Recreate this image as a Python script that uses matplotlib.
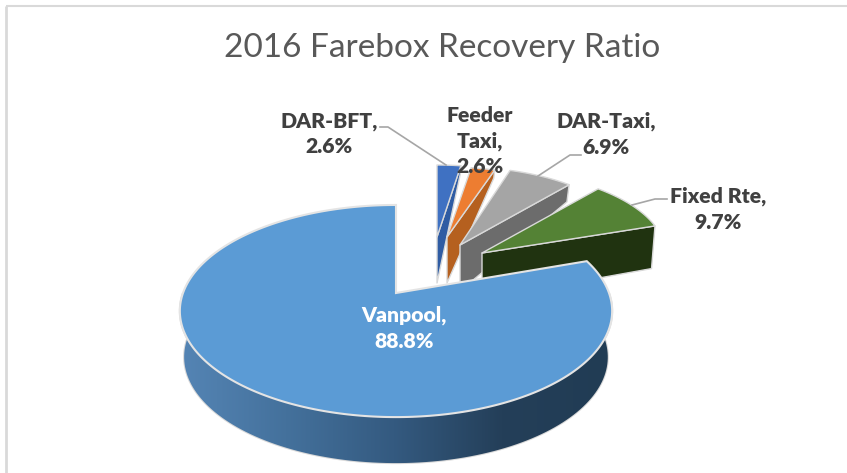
import numpy as np
import matplotlib
matplotlib.use("Agg")
import matplotlib.pyplot as plt
from matplotlib.colors import LinearSegmentedColormap
from matplotlib.patches import Polygon

# data, in the order the slices run clockwise from 12 o'clock
categories = ["DAR-BFT", "Feeder Taxi", "DAR-Taxi", "Fixed Rte", "Vanpool"]
ratios = [2.6, 2.6, 6.9, 9.7, 88.8]
label_text = ["DAR-BFT,\n2.6%", "Feeder\nTaxi,\n2.6%", "DAR-Taxi,\n6.9%",
              "Fixed Rte,\n9.7%", "Vanpool,\n88.8%"]

top_colors = ["#3f71c2", "#ed7d31", "#a5a5a5", "#548235", "#5b9bd5"]
side_colors = ["#2f5ca3", "#b5601f", "#6c6c6c", "#203310", "#2f5577"]

# apex x, apex y, x radius, y radius, perspective for each slice (picture pixels)
geometry = [(437, 237, 162, 72, 0),
            (447, 237, 164, 70, 0),
            (460, 245, 172, 78, 0),
            (482, 253, 183, 83, 0),
            (396, 293, 213, 103, 0.17)]

label_pos = [(329, 134), (480, 141), (606, 134), (718, 209), (404, 328)]
leaders = [[(380, 127), (388, 127), (446, 165)],
           [(538, 176), (570, 155), (581, 155)],
           [(632, 205), (655, 199), (667, 199)]]

plt.rcParams["font.family"] = ["Lato", "DejaVu Sans"]

fig = plt.figure(figsize=(8.47, 4.73), dpi=100)
ax = fig.add_axes([0, 0, 1, 1])
ax.set_xlim(0, 847)
ax.set_ylim(473, 0)
ax.axis("off")


def rim(geo, a0, a1, n=120):
    cx, cy, rx, ry, k = geo
    t = np.radians(np.linspace(a0, a1, n))
    u, v = np.sin(t), np.cos(t)
    return cx + rx * u / (1 + k * v), cy - ry * v / (1 + k * v)


def drop(x, y, cx):
    # the underside sits lower, less so towards the back of the chart
    depth = np.clip(8 + 0.62 * (y - 170), 8, 46)
    return cx + (x - cx) * 0.98, y + depth


edge = "#d9d9d9"
angles = 360 * np.array(ratios) / sum(ratios)
starts = np.concatenate([[0], np.cumsum(angles)[:-1]])

# small exploded slices, back to front
for i in range(4):
    geo = geometry[i]
    a0, a1 = starts[i], starts[i] + angles[i]
    x, y = rim(geo, a0, a1)
    # cut face along the clockwise edge
    ex = np.array([geo[0], x[-1]])
    ey = np.array([geo[1], y[-1]])
    bx, by = drop(ex, ey, geo[0])
    ax.add_patch(Polygon(list(zip(ex, ey)) + list(zip(bx[::-1], by[::-1])),
                         fc=side_colors[i], ec=edge, lw=1.0, joinstyle="round"))
    ax.add_patch(Polygon([(geo[0], geo[1])] + list(zip(x, y)),
                         fc=top_colors[i], ec=edge, lw=1.0, joinstyle="round"))

# big slice: shaded wall first, then the top
geo = geometry[4]
a0, a1 = starts[4], starts[4] + angles[4]
fx, fy = rim(geo, 90, 270)
bx, by = drop(fx, fy, 394)
wall = Polygon(list(zip(fx, fy)) + list(zip(bx[::-1], by[::-1])),
               fc="none", ec=edge, lw=1.5)
ax.add_patch(wall)
shade = LinearSegmentedColormap.from_list(
    "wall", ["#5585b5", "#44719c", "#345a80", "#243f59", "#213c54"])
im = ax.imshow(np.linspace(0, 1, 256)[None, :], cmap=shade, aspect="auto",
               extent=(178, 610, 473, 300), zorder=2)
im.set_clip_path(wall)
ax.set_xlim(0, 847)
ax.set_ylim(473, 0)

x, y = rim(geo, a0, a1, 300)
ax.add_patch(Polygon([(geo[0], geo[1])] + list(zip(x, y)), fc=top_colors[4],
                     ec="#e4e4e4", lw=1.5, zorder=3))

# chart frame
ax.plot([6, 6], [6, 473], color=edge, lw=2, solid_capstyle="butt")
ax.plot([6, 847], [6.5, 6.5], color=edge, lw=1.5, solid_capstyle="butt")

for pts in leaders:
    ax.plot(*zip(*pts), color="#a6a6a6", lw=1.2, zorder=4)

ax.text(442, 48, "2016 Farebox Recovery Ratio", fontsize=24, color="#595959",
        ha="center", va="center", zorder=5)

for i, name in enumerate(categories):
    ax.text(label_pos[i][0], label_pos[i][1], label_text[i], fontsize=15.2,
            fontweight="heavy", color="white" if name == "Vanpool" else "#404040",
            ha="center", va="center", linespacing=1.42, zorder=5)

fig.savefig("out.png", dpi=100)
